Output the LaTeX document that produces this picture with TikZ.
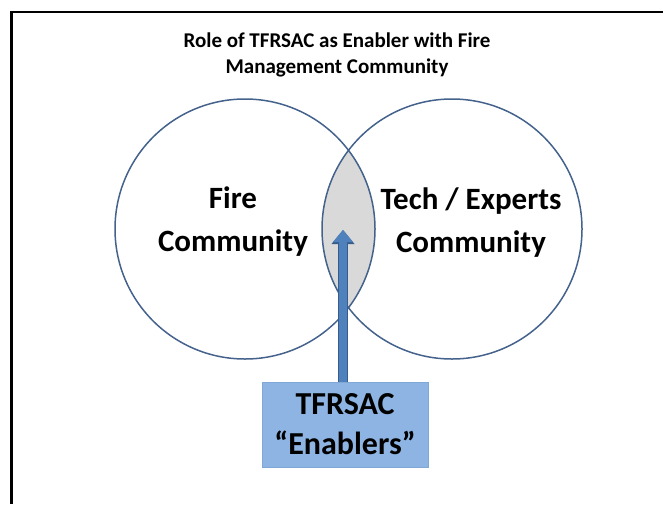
\documentclass[tikz,border=0pt]{standalone}
\usepackage{fontspec}
\setmainfont{Carlito}
\usetikzlibrary{arrows.meta}
\definecolor{vennline}{RGB}{68,98,140}
\definecolor{lensgrey}{RGB}{217,217,217}
\definecolor{arrowblue}{RGB}{79,129,189}
\definecolor{arrowdark}{RGB}{56,93,138}
\definecolor{boxblue}{RGB}{141,180,226}

\begin{document}
\begin{tikzpicture}[x=1pt, y=-1pt]

    \useasboundingbox (0,0) rectangle (663,504);

    % frame, only the left and top edge are visible
    \draw[line width=2.5pt] (11.5,504) -- (11.5,12) -- (663,12);

    \node[font=\fontsize{21}{26}\selectfont\bfseries, align=center] (title) at (337,54.5) {Role of TFRSAC as Enabler with Fire\\Management Community};

    \coordinate (firecenter) at (245,229);
    \coordinate (techcenter) at (452,229);

    \begin{scope}
        \clip (firecenter) circle (130pt);
        \fill[lensgrey] (techcenter) circle (130pt);
    \end{scope}

    \draw[vennline, line width=1.5pt] (firecenter) circle (130pt);
    \draw[vennline, line width=1.5pt] (techcenter) circle (130pt);

    \node[font=\fontsize{31}{43}\selectfont\bfseries, align=center] (fire) at (233,222) {Fire\\Community};
    \node[font=\fontsize{31}{43}\selectfont\bfseries, align=center] (tech) at (471,223) {Tech / Experts\\Community};

    \node[fill=boxblue, draw=boxblue!85!arrowdark, minimum width=166pt, minimum height=85pt, inner sep=0pt, font=\fontsize{32}{40}\selectfont\bfseries, align=center] (enablers) at (345,424.5) {TFRSAC\\“Enablers”};

    \coordinate (lenstip) at (343,230);
    \draw[arrowblue, line width=8pt, -{Triangle[length=12pt, width=20pt, line width=0pt]},
        preaction={draw, arrowdark, line width=10pt, -{Triangle[length=14pt, width=23pt, line width=0pt]}}]
        (enablers.north -| lenstip) -- (lenstip);

\end{tikzpicture}
\end{document}
